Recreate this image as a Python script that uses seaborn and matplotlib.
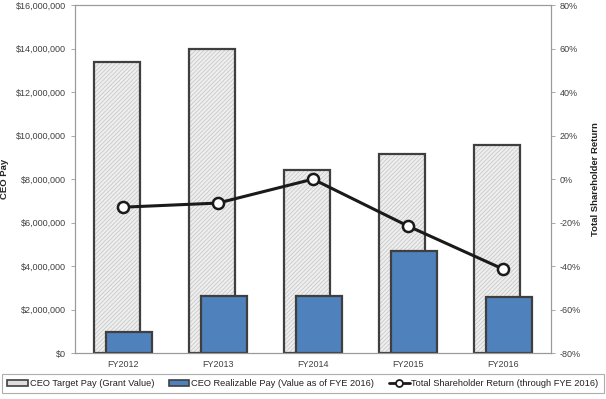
import matplotlib
matplotlib.use('Agg')
import matplotlib.pyplot as plt
import matplotlib.ticker as mticker
from matplotlib.patches import Patch
from matplotlib.lines import Line2D
import seaborn as sns
import numpy as np
import pandas as pd

# values
years = ['FY2012', 'FY2013', 'FY2014', 'FY2015', 'FY2016']
target_pay = [13380000, 13980000, 8410000, 9150000, 9560000]
realizable_pay = [970000, 2620000, 2640000, 4690000, 2570000]
tsr = [-12.9, -11.0, 0.0, -21.6, -41.4]

sns.set_style('white')
plt.rcParams['font.family'] = ['Liberation Sans', 'DejaVu Sans']
plt.rcParams['hatch.linewidth'] = 0.5

pos = np.arange(len(years))
df = pd.DataFrame({'pos': pos, 'target': target_pay, 'real': realizable_pay, 'tsr': tsr})

fig, ax = plt.subplots(figsize=(6.06, 3.99), dpi=100)
fig.subplots_adjust(left=0.124, right=0.909, top=0.987, bottom=0.115)

edge = '#3f3f3f'
blue = '#4f81bd'

# hatched target bars (hatch colour follows edgecolor, so outline drawn separately)
sns.barplot(x=df['pos'] - 0.063, y=df['target'], ax=ax, native_scale=True, width=0.48,
            color='#eeeeee', edgecolor='#c4c4c4', linewidth=0, hatch='////////', saturation=1)
sns.barplot(x=df['pos'] - 0.063, y=df['target'], ax=ax, native_scale=True, width=0.48,
            fill=False, edgecolor=edge, linewidth=1.6)
sns.barplot(x=df['pos'] + 0.063, y=df['real'], ax=ax, native_scale=True, width=0.48,
            color=blue, edgecolor=edge, linewidth=1.6, saturation=1)

ax.set_xlim(-0.5, 4.5)
ax.set_ylim(0, 16000000)
ax.set_yticks(np.arange(0, 16000001, 2000000))
ax.yaxis.set_major_formatter(mticker.FuncFormatter(lambda v, p: f'${v:,.0f}'))
ax.set_xticks(pos)
ax.set_xticklabels(years)
ax.set_xlabel('')
ax.set_ylabel('CEO Pay', fontsize=6.8, fontweight='bold', color='#222222', labelpad=5)

ax2 = ax.twinx()
sns.lineplot(x=df['pos'], y=df['tsr'], ax=ax2, color='#1a1a1a', linewidth=2.2,
             marker='o', markersize=8, markerfacecolor='white',
             markeredgecolor='#1a1a1a', markeredgewidth=1.8)
ax2.set_ylim(-80, 80)
ax2.set_yticks(np.arange(-80, 81, 20))
ax2.yaxis.set_major_formatter(mticker.FuncFormatter(lambda v, p: f'{v:.0f}%'))
ax2.set_ylabel('Total Shareholder Return', fontsize=6.8, fontweight='bold',
               color='#222222', labelpad=7)
ax2.set_xlim(-0.5, 4.5)

for a in (ax, ax2):
    for s in a.spines.values():
        s.set_color('#9a9a9a')
        s.set_linewidth(0.8)
    a.tick_params(axis='y', labelsize=6.5, colors='#404040', length=3, width=0.6,
                  direction='out')
    a.tick_params(axis='y', color='#9a9a9a')
ax.tick_params(axis='x', labelsize=6.5, colors='#404040', length=0, pad=5)
ax.tick_params(axis='y', left=True)
ax2.tick_params(axis='y', right=True)

handles = [
    Patch(facecolor='#dedede', edgecolor=edge, linewidth=1.2),
    Patch(facecolor=blue, edgecolor=edge, linewidth=1.2),
    Line2D([0], [0], color='#1a1a1a', linewidth=2, marker='o', markersize=5,
           markerfacecolor='white', markeredgecolor='#1a1a1a', markeredgewidth=1.3),
]
labels = ['CEO Target Pay (Grant Value)', 'CEO Realizable Pay (Value as of FYE 2016)',
          'Total Shareholder Return (through FYE 2016)']
leg = fig.legend(handles, labels, loc='lower center', ncol=3, fontsize=6.7,
                 bbox_to_anchor=(0.5, 0.003), frameon=True, fancybox=False,
                 edgecolor='#9a9a9a', handlelength=2.2, handleheight=0.6,
                 handletextpad=0.2, columnspacing=1.6, borderpad=0.55)
leg.get_frame().set_linewidth(0.8)
for t in leg.get_texts():
    t.set_color('#222222')

fig.savefig('out.png', dpi=100)
